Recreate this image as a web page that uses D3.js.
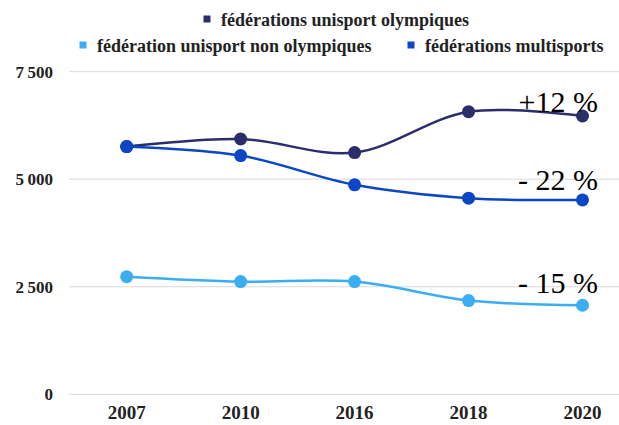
<!DOCTYPE html>
<html><head><meta charset="utf-8">
<script src="https://cdn.jsdelivr.net/npm/d3@7/dist/d3.min.js"></script>
<style>body{margin:0;background:#fff}svg{display:block}
svg text{font-family:"Liberation Serif";}
</style>
</head><body>
<svg id="c" width="619" height="425"></svg>
<script>
const years = ["2007","2010","2016","2018","2020"];
const olympiques = [5760, 5935, 5620, 6570, 6470];
const multisports = [5760, 5550, 4870, 4560, 4520];
const nonOlympiques = [2735, 2620, 2620, 2180, 2070];
const yTicks = [0, 2500, 5000, 7500];
const seriesNames = ["fédérations unisport olympiques", "fédération unisport non olympiques", "fédérations multisports"];
const seriesColors = ["#2a2f6c", "#0b46c6", "#3aaef0"];
const changeLabels = ["+12 %", "- 22 %", "- 15 %"];

const series = [
  {name: seriesNames[0], values: olympiques, color: seriesColors[0], label: changeLabels[0]},
  {name: seriesNames[2], values: multisports, color: seriesColors[1], label: changeLabels[1]},
  {name: seriesNames[1], values: nonOlympiques, color: seriesColors[2], label: changeLabels[2]}
];

const svg = d3.select("#c");
const x = d3.scalePoint().domain(years).range([126.7, 582.5]);
const y = d3.scaleLinear().domain([0, 7500]).range([394.3, 71.7]);

svg.append("g").selectAll("line").data(yTicks).join("line")
  .attr("x1", 69).attr("x2", 619)
  .attr("y1", d => y(d)).attr("y2", d => y(d))
  .attr("stroke", "#d9d9d9").attr("stroke-width", 1);

const fmt = d => d3.format(",")(d).replace(",", "\u202F");
svg.append("g").selectAll("text").data(yTicks).join("text")
  .attr("x", 53).attr("y", d => y(d)).attr("dy", "0.35em")
  .attr("text-anchor", "end").style("font-weight", "bold")
  .style("font-size", "17px").attr("fill", "#222").text(fmt);

svg.append("g").selectAll("text").data(years).join("text")
  .attr("x", d => x(d)).attr("y", 419)
  .attr("text-anchor", "middle").style("font-weight", "bold")
  .style("font-size", "19px").attr("fill", "#222").text(d => d);

const line = d3.line().x((d, i) => x(years[i])).y(d => y(d)).curve(d3.curveCatmullRom.alpha(0.5));

series.forEach(s => {
  const g = svg.append("g");
  g.append("path").attr("d", line(s.values)).attr("fill", "none")
    .attr("stroke", s.color).attr("stroke-width", 2.5);
  g.selectAll("circle").data(s.values).join("circle")
    .attr("cx", (d, i) => x(years[i])).attr("cy", d => y(d)).attr("r", 6.5)
    .attr("fill", s.color);
});

const labelY = [112, 190, 293];
series.forEach((s, i) => {
  svg.append("text").attr("x", 598).attr("y", labelY[i]).attr("text-anchor", "end")
    .style("font-size", "30px").attr("fill", "#000").text(s.label);
});

const legendItems = [
  {name: seriesNames[0], color: seriesColors[0], x: 207, y: 20},
  {name: seriesNames[1], color: seriesColors[2], x: 83, y: 46},
  {name: seriesNames[2], color: seriesColors[1], x: 411, y: 46}
];
const lg = svg.append("g");
legendItems.forEach(it => {
  lg.append("rect").attr("x", it.x - 3.5).attr("y", it.y - 4.5).attr("width", 7).attr("height", 7).attr("fill", it.color);
  lg.append("text").attr("x", it.x + 14).attr("y", it.y).attr("dy", "0.35em")
    .style("font-size", "18px").style("font-weight", "bold").attr("fill", "#222").text(it.name);
});
</script>
</body></html>
